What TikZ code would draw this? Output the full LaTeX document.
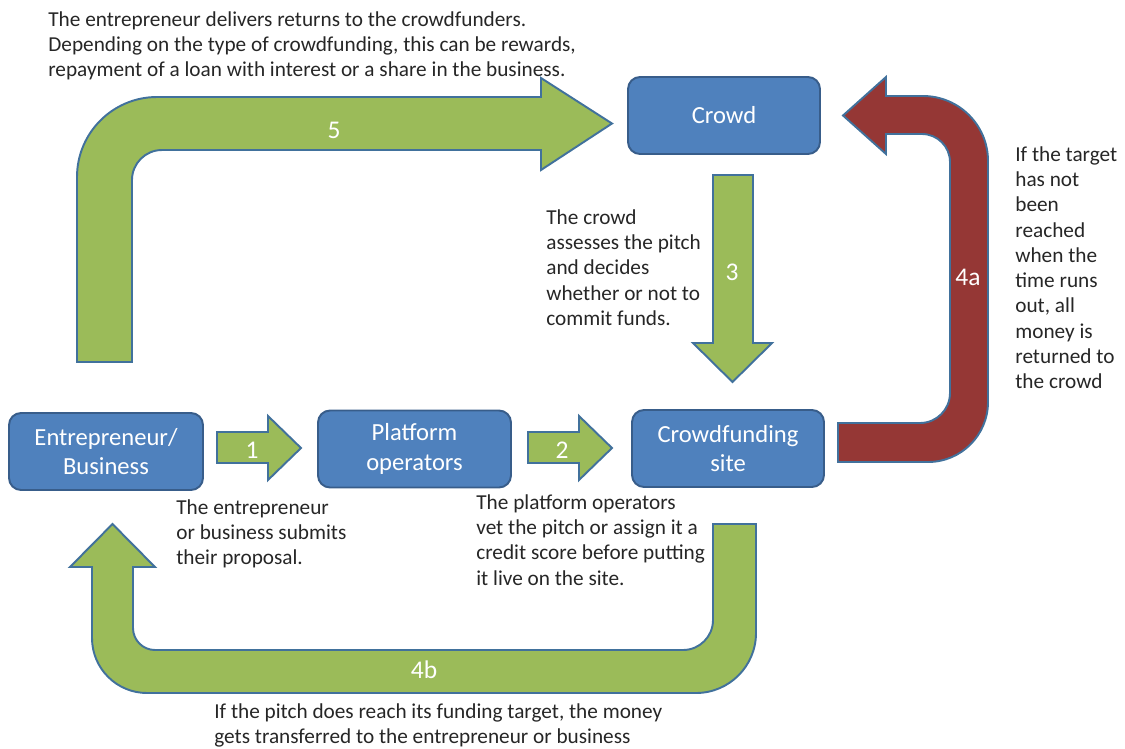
\documentclass[tikz,border=0pt]{standalone}
\usepackage{fontspec}
\setmainfont{Carlito}

\definecolor{boxblue}{HTML}{4F81BD}
\definecolor{boxline}{HTML}{385D8A}
\definecolor{arrgreen}{HTML}{9BBB59}
\definecolor{arrred}{HTML}{953735}
\definecolor{arrline}{HTML}{41719C}
\definecolor{txtgrey}{HTML}{262626}

\tikzset{
  stage/.style={draw=boxline,fill=boxblue,line width=1.1pt,rounded corners=0.24cm,
    text=white,align=center,font=\fontsize{14}{17}\selectfont},
  flow/.style={draw=arrline,fill=arrgreen,line width=1.1pt},
  back/.style={draw=arrline,fill=arrred,line width=1.1pt},
  num/.style={text=white,font=\fontsize{14.5}{17}\selectfont,inner sep=0},
  note/.style={anchor=north west,align=left,inner sep=0,text=txtgrey,
    font=\fontsize{12.1}{14.4}\selectfont}
}

\begin{document}
\begin{tikzpicture}[x=0.02cm,y=-0.02cm]
  \useasboundingbox (0,0) rectangle (1125,748);

  % 5: entrepreneur -> crowd
  \draw[flow] (77,362) -- (77,177) arc[start angle=180,end angle=270,radius=80]
    -- (541,97) -- (541,78) -- (612,123.5) -- (541,170) -- (541,150)
    -- (162,150) arc[start angle=270,end angle=180,radius=30] -- (132,362) -- cycle;

  % 4b: site -> entrepreneur
  \draw[flow] (713,524) -- (756,524) -- (756,633) arc[start angle=0,end angle=90,radius=60]
    -- (147,693) arc[start angle=90,end angle=180,radius=55]
    -- (92,567) -- (70,567) -- (112.5,524) -- (155,567) -- (133,567)
    -- (133,628) arc[start angle=180,end angle=90,radius=22]
    -- (683,650) arc[start angle=90,end angle=0,radius=30] -- cycle;

  % 4a: site -> crowd
  \draw[back] (838,423) -- (920,423) arc[start angle=90,end angle=0,radius=30]
    -- (950,162) arc[start angle=0,end angle=-90,radius=28]
    -- (886,134) -- (886,154) -- (843,115.5) -- (886,77) -- (886,96)
    -- (923,96) arc[start angle=-90,end angle=0,radius=65]
    -- (988,402) arc[start angle=0,end angle=90,radius=60] -- (838,462) -- cycle;

  % 1, 2, 3
  \draw[flow] (217,432) -- (268,432) -- (268,416) -- (301,448) -- (268,480) -- (268,463) -- (217,463) -- cycle;
  \draw[flow] (528,432) -- (579,432) -- (579,416) -- (612,448) -- (579,480) -- (579,463) -- (528,463) -- cycle;
  \draw[flow] (713,175) -- (753,175) -- (753,343) -- (772,343) -- (732.5,382) -- (693,343) -- (713,343) -- cycle;

  \node (ENTR) at (106,451.5) [stage,minimum width=3.88cm,minimum height=1.54cm] {Entrepreneur/\\Business};
  \node (PLAT) at (414.5,449) [stage,minimum width=3.86cm,minimum height=1.54cm] {Platform\\operators};
  \node (SITE) at (728,448.5) [stage,minimum width=3.84cm,minimum height=1.54cm] {Crowdfunding\\site};
  \node (CROWD) at (724,115.5) [stage,minimum width=3.84cm,minimum height=1.54cm] {Crowd};

  \node (N5) at (334,130) [num] {5};
  \node (N3) at (732,272) [num] {3};
  \node (N1) at (252,450) [num] {1};
  \node (N2) at (562,450) [num] {2};
  \node (N4A) at (968,277) [num] {4a};
  \node (N4B) at (424,670) [num] {4b};

  \node (T5) at (48,11) [note] {The entrepreneur delivers returns to the crowdfunders.\\Depending on the type of crowdfunding, this can be rewards,\\repayment of a loan with interest or a share in the business.};
  \node (T3) at (546,209) [note] {The crowd\\assesses the pitch\\and decides\\whether or not to\\commit funds.};
  \node (T4A) at (1015,146) [note] {If the target\\has not\\been\\reached\\when the\\time runs\\out, all\\money is\\returned to\\the crowd};
  \node (T1) at (176,499) [note] {The entrepreneur\\or business submits\\their proposal.};
  \node (T2) at (476,494) [note] {The platform operators\\vet the pitch or assign it a\\credit score before putting\\it live on the site.};
  \node (T4B) at (214,703) [note] {If the pitch does reach its funding target, the money\\gets transferred to the entrepreneur or business};

\end{tikzpicture}
\end{document}
